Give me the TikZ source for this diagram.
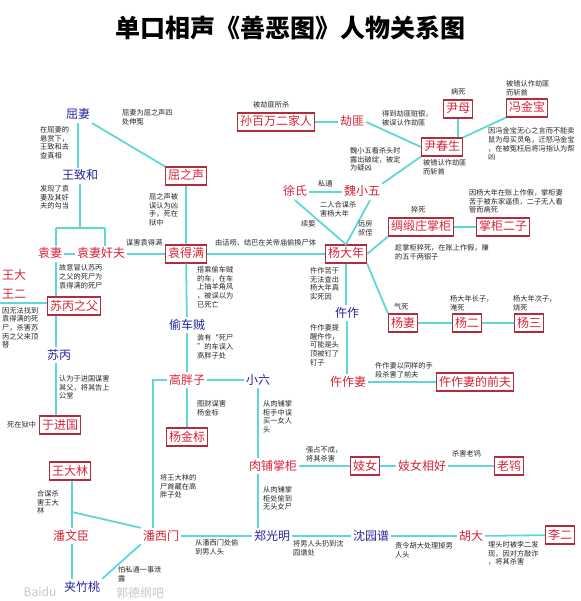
\documentclass[tikz,border=0pt]{standalone}
\usepackage{fontspec}
\setmainfont{Noto Sans CJK SC}
\newcommand\namefont{\fontsize{12}{12}\selectfont}
\newcommand\notefont{\fontsize{7.2}{8.6}\selectfont}
\definecolor{nred}{RGB}{215,35,55}
\definecolor{bred}{RGB}{175,45,60}
\definecolor{nblue}{RGB}{35,35,160}
\definecolor{lcyan}{RGB}{95,215,215}
\tikzset{
  rbox/.style={draw=bred, line width=1.1pt, text=nred, font=\namefont, inner xsep=2.5pt, inner ysep=3pt, text height=10pt, text depth=2pt},
  rtxt/.style={text=nred, font=\namefont, inner sep=2pt, text height=10pt, text depth=2pt},
  btxt/.style={text=nblue, font=\namefont, inner sep=2pt, text height=10pt, text depth=2pt},
  note/.style={font=\notefont, align=left, inner sep=0pt, anchor=north west, text=black!85},
  conn/.style={draw=lcyan, line width=1.8pt},
  wmark/.style={text=gray!45, font=\fontsize{12}{12}\selectfont, inner sep=0pt},
}
\begin{document}
\begin{tikzpicture}[x=1pt,y=-1pt]
\path[use as bounding box] (0,0) rectangle (580,601);
\node[font=\fontsize{25}{25}\selectfont\bfseries, inner sep=0pt] (title) at (290,28) {单口相声《善恶图》人物关系图};

% ---- main nodes ----
\node[btxt] (qq) at (78,115) {屈妻};
\node[btxt] (wzh) at (80,176) {王致和};
\node[rbox] (qzs) at (186,176) {屈之声};
\node[rbox] (sbw) at (276,122) {孙百万二家人};
\node[rtxt] (jf) at (352,122) {劫匪};
\node[rbox] (ym) at (458,109) {尹母};
\node[rbox] (fjb) at (527,108) {冯金宝};
\node[rbox] (ycs) at (442,147) {尹春生};
\node[rtxt] (xs) at (295,192) {徐氏};
\node[rtxt] (wxw) at (362,192) {魏小五};
\node[rbox] (cdz) at (421,227) {绸缎庄掌柜};
\node[rbox] (zgez) at (503,227) {掌柜二子};
\node[rbox] (ydn) at (346,254) {杨大年};
\node[rtxt] (yq) at (50,254) {袁妻};
\node[rtxt] (yjf) at (101,254) {袁妻奸夫};
\node[rbox] (ydm) at (186,254) {袁得满};
\node[rtxt] (wd) at (14,275) {王大};
\node[rtxt] (we) at (14,294) {王二};
\node[rbox] (sbzf) at (74,306) {苏丙之父};
\node[btxt] (tcz) at (187,325) {偷车贼};
\node[btxt] (zz) at (347,313) {仵作};
\node[rbox] (yqi) at (403,323) {杨妻};
\node[rbox] (ye) at (467,323) {杨二};
\node[rbox] (ys) at (529,323) {杨三};
\node[btxt] (sb) at (59,355) {苏丙};
\node[rtxt] (gpz) at (187,380) {高胖子};
\node[btxt] (xl) at (258,380) {小六};
\node[rtxt] (zzq) at (348,382) {仵作妻};
\node[rbox] (qf) at (475,382) {仵作妻的前夫};
\node[rbox] (yjg) at (60,425) {于进国};
\node[rbox] (yjb) at (187,437) {杨金标};
\node[rtxt] (rpzg) at (273,466) {肉铺掌柜};
\node[rbox] (jn) at (365,466) {妓女};
\node[rtxt] (jnxh) at (422,466) {妓女相好};
\node[rbox] (lb) at (509,466) {老鸨};
\node[rbox] (wdl) at (70,471) {王大林};
\node[rtxt] (pwc) at (71,536) {潘文臣};
\node[rtxt] (pxm) at (161,536) {潘西门};
\node[btxt] (zgm) at (272,536) {郑光明};
\node[btxt] (syp) at (371,536) {沈园谱};
\node[rtxt] (hd) at (471,536) {胡大};
\node[rbox] (le) at (560,535) {李二};
\node[btxt] (jzt) at (82,587) {夹竹桃};

% ---- helper coordinates ----
\coordinate (barL) at (56,228);
\coordinate (barR) at (105,228);
\coordinate (vx) at (56,0);
\coordinate (lefte) at (0,303);
\coordinate (colP) at (153,380);
\coordinate (colW) at (72,0);
\coordinate (br) at (72,512);

% ---- connectors ----
\draw[conn] (qq.south) -- (qq.south |- wzh.north);
\draw[conn] (qq.south east) -- (qzs.north west);
\draw[conn] (wzh.south) -- (wzh.south |- barL);
\draw[conn] (barL) -- (barR);
\draw[conn] (barL) -- (barL |- yq.north);
\draw[conn] (barR) -- (barR |- yjf.north);
\draw[conn] (yq) -- (yjf);
\draw[conn] (yjf) -- (ydm);
\draw[conn] (qzs) -- (ydm);
\draw[conn] (ydm) -- (tcz);
\draw[conn] (tcz) -- (gpz);
\draw[conn] (gpz) -- (yjb);
\draw[conn] (gpz) -- (xl);
\draw[conn] (gpz.west) -- (colP) -- (colP |- pxm.north);
\draw[conn] (ydm) -- (ydn);
\draw[conn] (yq.south -| vx) -- (sbzf.north -| vx);
\draw[conn] (sbzf.south -| vx) -- (sb.north -| vx);
\draw[conn] (sb.south -| vx) -- (yjg.north -| vx);
\draw[conn] (lefte) -- (lefte -| sbzf.west);
\draw[conn] (xl.south) -- (xl.south |- rpzg.north);
\draw[conn] (rpzg.south -| xl) -- (zgm.north -| xl);
\draw[conn] (rpzg) -- (jn);
\draw[conn] (jn) -- (jnxh);
\draw[conn] (jnxh) -- (lb);
\draw[conn] (wdl.south -| colW) -- (pwc.north -| colW);
\draw[conn] (br) -- (pxm.north west);
\draw[conn] (pwc.south -| colW) -- (jzt.north -| colW);
\draw[conn] (pxm.south west) -- (jzt.north east);
\draw[conn] (pxm) -- (zgm);
\draw[conn] (zgm) -- (syp);
\draw[conn] (syp) -- (hd);
\draw[conn] (hd) -- (le);
\draw[conn] (sbw) -- (jf);
\draw[conn] (jf.east) -- (ycs.west);
\draw[conn] (ym.south) -- (ym.south |- ycs.north);
\draw[conn] (fjb.south west) -- (ycs.north east);
\draw[conn] (wxw.north east) -- (ycs.south west);
\draw[conn] (xs) -- (wxw);
\draw[conn] (xs.south) -- (ydn.north);
\draw[conn] ([xshift=8pt]wxw.south) -- (ydn.north);
\draw[conn] (ydn.east) -- (cdz.south west);
\draw[conn] (cdz) -- (zgez);
\draw[conn] (ydn.south east) -- (yqi.north west);
\draw[conn] (yqi) -- (ye);
\draw[conn] (ye) -- (ys);
\draw[conn] (ydn.south) -- (ydn.south |- zz.north);
\draw[conn] (zz.south) -- (zz.south |- zzq.north);
\draw[conn] (zzq) -- (qf);

% ---- notes ----
\node[note] (n1) at (253,101.5) {被劫匪所杀};
\node[note] (n2) at (451,88.5) {病死};
\node[note] (n3) at (506,80.5) {被错认作劫匪\\而斩首};
\node[note] (n4) at (382,110.5) {得到劫匪赃银，\\被误认作劫匪};
\node[note] (n5) at (488,127.5) {因冯金宝无心之言而不能卖\\鼠为母买灵龟，迁怒冯金宝\\，在被冤枉后将冯指认为帮\\凶};
\node[note] (n6) at (423,159.5) {被错认作劫匪\\而斩首};
\node[note] (n7) at (350,147.5) {魏小五看杀头时\\露出破绽，被定\\为疑凶};
\node[note] (n8) at (318,180.5) {私通};
\node[note] (n9) at (320,201.5) {二人合谋杀\\害杨大年};
\node[note] (n10) at (301,220.5) {续娶};
\node[note] (n11) at (358,220.5) {远房\\叔侄};
\node[note] (n12) at (411,206.5) {猝死};
\node[note] (n13) at (469,189.5) {因杨大年在账上作假，掌柜妻\\苦于被东家逼债，二子无人看\\管而病死};
\node[note] (n14) at (395,244.5) {趁掌柜猝死，在账上作假，赚\\的五千两银子};
\node[note] (n15) at (394,303.5) {气死};
\node[note] (n16) at (450,295.5) {杨大年长子，\\淹死};
\node[note] (n17) at (513,295.5) {杨大年次子，\\烧死};
\node[note] (n18) at (310,267.5) {仵作苦于\\无法查出\\杨大年真\\实死因};
\node[note] (n19) at (310,324.5) {仵作妻提\\醒仵作，\\可能是头\\顶被钉了\\钉子};
\node[note] (n20) at (375,362.5) {仵作妻以同样的手\\段杀害了前夫};
\node[note] (n21) at (215,239.5) {由话唠、结巴在关帝庙偷换尸体};
\node[note] (n22) at (122,109.5) {屈妻为屈之声四\\处伸冤};
\node[note] (n23) at (40,126.5) {在屈妻的\\悬赏下，\\王致和去\\查真相};
\node[note] (n24) at (40,185.5) {发现了袁\\妻及其奸\\夫的勾当};
\node[note] (n25) at (149,193.5) {屈之声被\\误认为凶\\手，死在\\狱中};
\node[note] (n26) at (126,239.5) {谋害袁得满};
\node[note] (n27) at (59,264.5) {故意冒认苏丙\\之父的死尸为\\袁得满的死尸};
\node[note] (n28) at (2,307) {因无法找到\\袁得满的死\\尸，杀害苏\\丙之父来顶\\替};
\node[note] (n29) at (197,266.5) {搭乘偷车贼\\的车，在车\\上抽羊角风\\，被误以为\\已死亡};
\node[note] (n30) at (197,334.5) {装有“死尸\\”的车误入\\高胖子处};
\node[note] (n31) at (59,375.5) {认为于进国谋害\\其父，将其告上\\公堂};
\node[note] (n32) at (7,421.5) {死在狱中};
\node[note] (n33) at (197,400.5) {图财谋害\\杨金标};
\node[note] (n34) at (263,400.5) {从肉铺掌\\柜手中误\\买一女人\\头};
\node[note] (n35) at (306,446.5) {强占不成，\\将其杀害};
\node[note] (n36) at (452,450.5) {杀害老鸨};
\node[note] (n37) at (160,474.5) {将王大林的\\尸首藏在高\\胖子处};
\node[note] (n38) at (263,486.5) {从肉铺掌\\柜处偷到\\无头女尸};
\node[note] (n39) at (37,490.5) {合谋杀\\害王大\\林};
\node[note] (n40) at (195,539.5) {从潘西门处偷\\到男人头};
\node[note] (n41) at (293,540.5) {将男人头扔到沈\\园谱处};
\node[note] (n42) at (395,542.5) {责令胡大处理掉男\\人头};
\node[note] (n43) at (488,541.5) {埋头时被李二发\\现，因对方敲诈\\，将其杀害};
\node[note] (n44) at (118,566.5) {怕私通一事泄\\露};

% ---- watermark ----
\node[wmark] (wm1) at (40,592) {Baidu};
\node[wmark] (wm2) at (140,593) {郭德纲吧};
\end{tikzpicture}
\end{document}
